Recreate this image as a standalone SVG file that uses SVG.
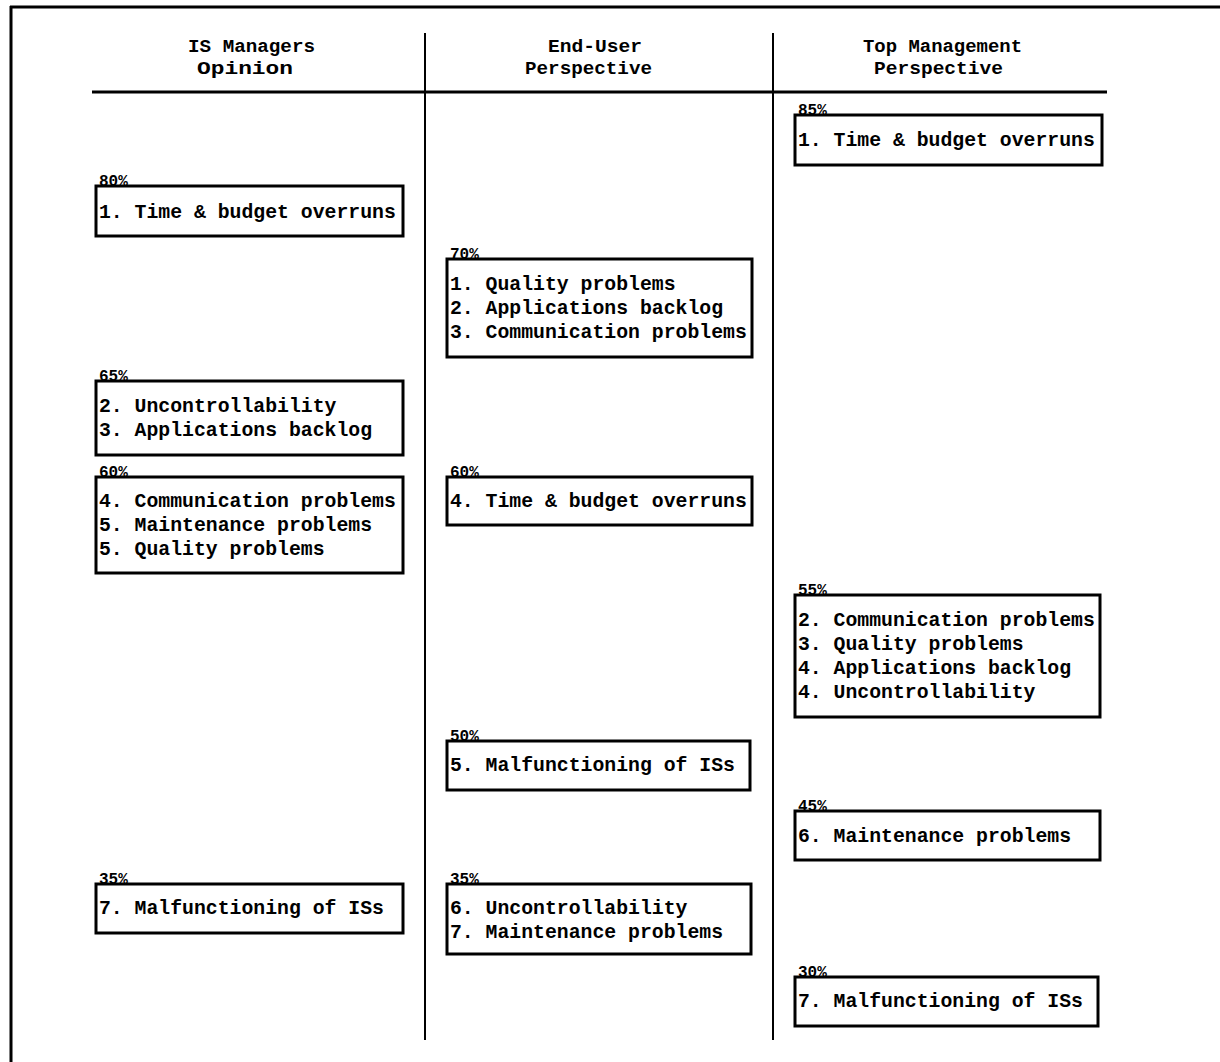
<svg xmlns="http://www.w3.org/2000/svg" width="1220" height="1062" viewBox="0 0 1220 1062">
<style>
.box{fill:#fff;stroke:#000;stroke-width:3}
.t{font-family:"Liberation Mono","DejaVu Sans Mono",monospace;font-weight:bold;font-size:19.8px;fill:#000}
.p{font-family:"Liberation Mono","DejaVu Sans Mono",monospace;font-weight:bold;font-size:16px;fill:#000}
.h{font-family:"Liberation Mono","DejaVu Sans Mono",monospace;font-weight:bold;font-size:19px;fill:#000}
.ln{stroke:#000;fill:none}
</style>
<rect width="1220" height="1062" fill="#fff"/>
<g id="frame">
<line class="ln" x1="10" y1="7" x2="1220" y2="7" stroke-width="3"/>
<line class="ln" x1="11" y1="6" x2="11" y2="1062" stroke-width="3"/>
<line class="ln" x1="92" y1="92" x2="1107" y2="92" stroke-width="3"/>
<line class="ln" x1="425" y1="33" x2="425" y2="1040" stroke-width="2"/>
<line class="ln" x1="773" y1="33" x2="773" y2="1040" stroke-width="2"/>
</g>
<g id="headers">
<text class="h" x="188" y="52" textLength="127" lengthAdjust="spacingAndGlyphs">IS Managers</text>
<text class="h" x="197" y="74" textLength="96" lengthAdjust="spacingAndGlyphs">Opinion</text>
<text class="h" x="548" y="52" textLength="94" lengthAdjust="spacingAndGlyphs">End-User</text>
<text class="h" x="525" y="74" textLength="127" lengthAdjust="spacingAndGlyphs">Perspective</text>
<text class="h" x="863" y="52" textLength="159" lengthAdjust="spacingAndGlyphs">Top Management</text>
<text class="h" x="874" y="74" textLength="129" lengthAdjust="spacingAndGlyphs">Perspective</text>
</g>
<g id="connectors"></g>
<g id="is80">
<rect class="box" x="96" y="186" width="307" height="50"/>
<text class="p" x="99" y="186">80%</text>
<text class="t" x="99" y="218">1. Time &amp; budget overruns</text>
</g>
<g id="is65">
<rect class="box" x="96" y="381" width="307" height="74"/>
<text class="p" x="99" y="381">65%</text>
<text class="t" x="99" y="412">2. Uncontrollability</text>
<text class="t" x="99" y="436">3. Applications backlog</text>
</g>
<g id="is60">
<rect class="box" x="96" y="477" width="307" height="96"/>
<text class="p" x="99" y="477">60%</text>
<text class="t" x="99" y="507">4. Communication problems</text>
<text class="t" x="99" y="531">5. Maintenance problems</text>
<text class="t" x="99" y="555">5. Quality problems</text>
</g>
<g id="is35">
<rect class="box" x="96" y="884" width="307" height="49"/>
<text class="p" x="99" y="884">35%</text>
<text class="t" x="99" y="914">7. Malfunctioning of ISs</text>
</g>
<g id="eu70">
<rect class="box" x="447" y="259" width="305" height="98"/>
<text class="p" x="450" y="259">70%</text>
<text class="t" x="450" y="290">1. Quality problems</text>
<text class="t" x="450" y="314">2. Applications backlog</text>
<text class="t" x="450" y="338">3. Communication problems</text>
</g>
<g id="eu60">
<rect class="box" x="447" y="477" width="305" height="48"/>
<text class="p" x="450" y="477">60%</text>
<text class="t" x="450" y="507">4. Time &amp; budget overruns</text>
</g>
<g id="eu50">
<rect class="box" x="447" y="741" width="303" height="49"/>
<text class="p" x="450" y="741">50%</text>
<text class="t" x="450" y="771">5. Malfunctioning of ISs</text>
</g>
<g id="eu35">
<rect class="box" x="447" y="884" width="304" height="70"/>
<text class="p" x="450" y="884">35%</text>
<text class="t" x="450" y="914">6. Uncontrollability</text>
<text class="t" x="450" y="938">7. Maintenance problems</text>
</g>
<g id="tm85">
<rect class="box" x="795" y="115" width="307" height="50"/>
<text class="p" x="798" y="115">85%</text>
<text class="t" x="798" y="146">1. Time &amp; budget overruns</text>
</g>
<g id="tm55">
<rect class="box" x="795" y="595" width="305" height="122"/>
<text class="p" x="798" y="595">55%</text>
<text class="t" x="798" y="626">2. Communication problems</text>
<text class="t" x="798" y="650">3. Quality problems</text>
<text class="t" x="798" y="674">4. Applications backlog</text>
<text class="t" x="798" y="698">4. Uncontrollability</text>
</g>
<g id="tm45">
<rect class="box" x="795" y="811" width="305" height="49"/>
<text class="p" x="798" y="811">45%</text>
<text class="t" x="798" y="842">6. Maintenance problems</text>
</g>
<g id="tm30">
<rect class="box" x="795" y="977" width="303" height="49"/>
<text class="p" x="798" y="977">30%</text>
<text class="t" x="798" y="1007">7. Malfunctioning of ISs</text>
</g>
</svg>
